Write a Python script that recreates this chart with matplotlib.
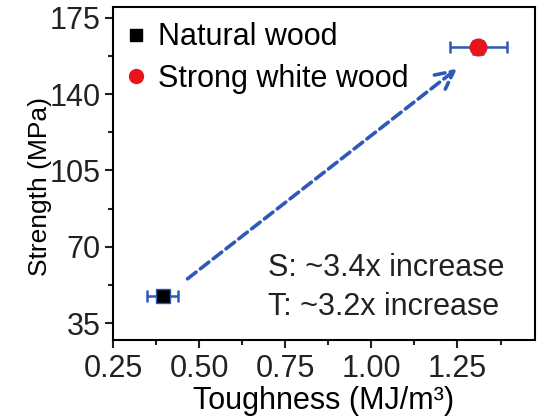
import matplotlib.pyplot as plt
from matplotlib.ticker import MultipleLocator
from matplotlib.lines import Line2D

plt.rcParams['font.family'] = ['Liberation Sans', 'DejaVu Sans']

# data
labels = ['Natural wood', 'Strong white wood']
toughness = [0.395, 1.31]
toughness_err = [0.045, 0.083]
strength = [47.5, 161.5]
strength_err = [2.5, 3.0]
arrow_start = (0.46, 54.5)
arrow_end = (1.255, 152.5)
notes = ['S: ~3.4x increase', 'T: ~3.2x increase']

blue = '#2f58b8'
fs = 22

fig = plt.figure(figsize=(5.37, 4.16), dpi=100)
ax = fig.add_axes([113 / 537, 1 - 340 / 416, (535 - 113) / 537, (340 - 7) / 416])

ax.errorbar(toughness[0], strength[0], xerr=toughness_err[0], yerr=strength_err[0],
            fmt='s', color='black', mec=blue, ms=10, ecolor=blue, elinewidth=1.8,
            capsize=4, capthick=1.8, zorder=3)
ax.errorbar(toughness[1], strength[1], xerr=toughness_err[1], yerr=strength_err[1],
            fmt='o', color='#e8141c', mec='#e8141c', ms=12, ecolor=blue, elinewidth=1.8,
            capsize=4, capthick=1.8, zorder=3)

ax.annotate('', xy=arrow_end, xytext=arrow_start,
            arrowprops=dict(arrowstyle='->', color=blue, lw=2.6,
                            linestyle=(0, (3, 1.5)), mutation_scale=32))

ax.text(0.70, 60.2, notes[0], fontsize=fs, color='#222222', va='center')
ax.text(0.70, 42.3, notes[1], fontsize=fs, color='#222222', va='center')

ax.set_xlim(0.25, 1.475)
ax.set_ylim(27.2, 180)
ax.xaxis.set_major_locator(MultipleLocator(0.25))
ax.xaxis.set_minor_locator(MultipleLocator(0.125))
ax.yaxis.set_major_locator(MultipleLocator(35))
ax.yaxis.set_minor_locator(MultipleLocator(17.5))
ax.xaxis.set_major_formatter(plt.FormatStrFormatter('%.2f'))
ax.tick_params(which='both', direction='out', width=1.5, labelsize=fs, colors='#222222')
ax.tick_params(which='major', length=6)
ax.tick_params(which='minor', length=3.5)
ax.tick_params(axis='x', pad=4)
ax.tick_params(axis='y', pad=3)
for s in ax.spines.values():
    s.set_linewidth(1.5)

ax.set_xlabel('Toughness (MJ/m³)', fontsize=fs, va='center')
ax.xaxis.set_label_coords(0.5, -0.183)
ax.set_ylabel('Strength (MPa)', fontsize=19, va='center')
ax.yaxis.set_label_coords(-0.173, 0.462)

handles = [
    Line2D([], [], ls='none', marker='s', color='black', ms=8),
    Line2D([], [], ls='none', marker='o', color='#e8141c', ms=10),
]
ax.legend(handles, labels, loc='upper left', frameon=False, fontsize=fs,
          handletextpad=0.46, borderaxespad=0.2, labelspacing=0.38,
          handlelength=0.5, borderpad=0.3)

fig.savefig('out.png', dpi=100)
